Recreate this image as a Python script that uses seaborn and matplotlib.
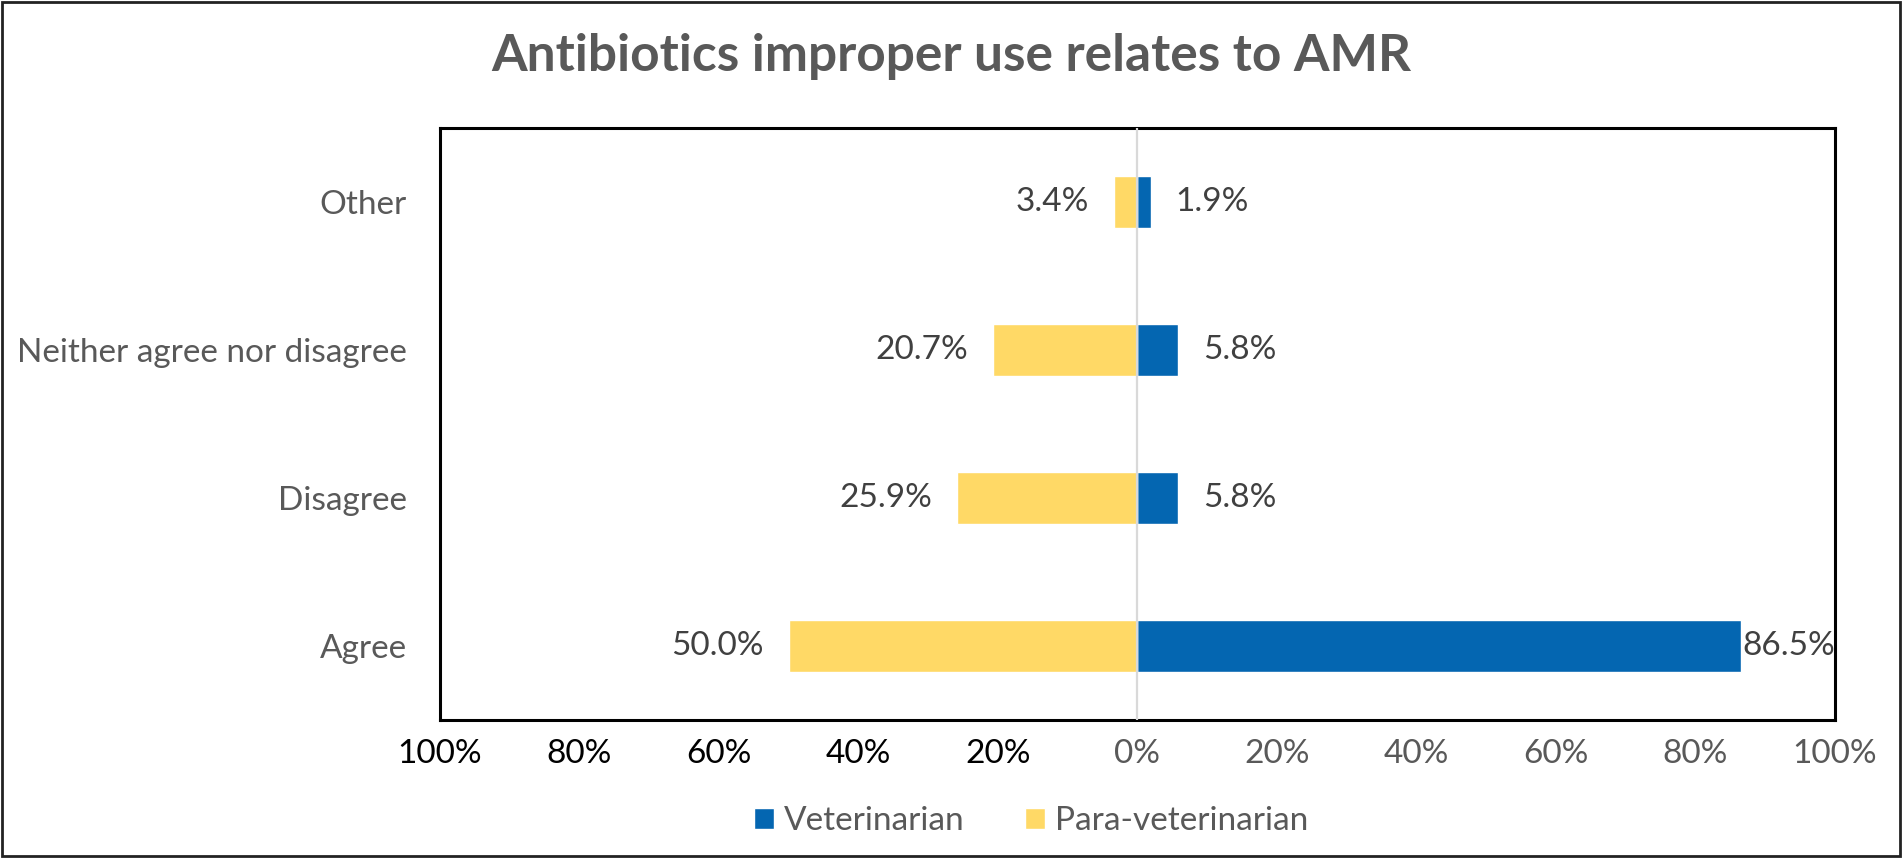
"""Diverging bar chart: antibiotics improper use relates to AMR."""

import matplotlib
matplotlib.use("Agg")
import matplotlib.pyplot as plt
from matplotlib.patches import Rectangle
import pandas as pd
import seaborn as sns

# Data (percent of respondents)
categories = ["Other", "Neither agree nor disagree", "Disagree", "Agree"]
veterinarian = [1.9, 5.8, 5.8, 86.5]
para_veterinarian = [3.4, 20.7, 25.9, 50.0]
groups = ["Veterinarian", "Para-veterinarian"]
tick_values = [-100, -80, -60, -40, -20, 0, 20, 40, 60, 80, 100]

BLUE = "#0466B1"
YELLOW = "#FFD966"
GRAY_TEXT = "#595959"
FONT = "Lato"
FS = 24

# Long-form table; para-veterinarian values go to the left side
df = pd.DataFrame({
    "Response": categories * 2,
    "Percent": veterinarian + [-v for v in para_veterinarian],
    "Group": [groups[0]] * len(categories) + [groups[1]] * len(categories),
})

sns.set_style("white")
plt.rcParams["font.family"] = [FONT, "DejaVu Sans"]

fig = plt.figure(figsize=(19.02, 8.58), dpi=100)
ax = fig.add_axes([0.2313, 0.1608, 0.9648 - 0.2313, 0.8508 - 0.1608])

sns.barplot(
    data=df, x="Percent", y="Response", hue="Group",
    order=categories, hue_order=groups,
    palette={groups[0]: BLUE, groups[1]: YELLOW},
    orient="h", dodge=False, width=0.355, saturation=1,
    legend=True, ax=ax, zorder=2,
)

ax.set_xlim(-100, 100)
ax.set_ylim(len(categories) - 0.5, -0.5)
ax.axvline(0, color="#D9D9D9", lw=1.6, zorder=3)

# Data labels: absolute values; the long bar keeps its label tight so it stays in the box
for container, values in zip(ax.containers, [veterinarian, para_veterinarian]):
    anns = ax.bar_label(container, labels=[f"{v:.1f}%" for v in values],
                        padding=18, fontsize=FS, color="#404040")
    for ann, v in zip(anns, values):
        if v > 80:
            ann.xyann = (1, 0)

ax.set_xticks(tick_values)
ax.set_xticklabels([f"{abs(t)}%" for t in tick_values])
for t, lab in zip(tick_values, ax.get_xticklabels()):
    lab.set_color("black" if t < 0 else GRAY_TEXT)
ax.tick_params(axis="x", length=0, pad=14, labelsize=FS)
ax.tick_params(axis="y", length=0, pad=24, labelsize=FS, labelcolor=GRAY_TEXT)
ax.set_xlabel("")
ax.set_ylabel("")

for side in ["top", "bottom", "left", "right"]:
    ax.spines[side].set_visible(True)
    ax.spines[side].set_color("black")
    ax.spines[side].set_linewidth(2.2)

# Legend below the plot
handles, labels = ax.get_legend_handles_labels()
ax.get_legend().remove()
fig.legend(handles, labels, loc="center", bbox_to_anchor=(0.542, 0.043),
           ncol=2, frameon=False, fontsize=FS, labelcolor=GRAY_TEXT,
           handlelength=0.6, handleheight=0.6, handletextpad=0.3,
           columnspacing=1.8)

fig.text(0.5, 1 - 57 / 858, "Antibiotics improper use relates to AMR",
         ha="center", va="center", fontsize=37, fontweight="bold",
         color=GRAY_TEXT)

# Outer frame around the whole chart
fig.patches.append(Rectangle((0.001, 0.002), 0.998, 0.996, transform=fig.transFigure,
                             fill=False, edgecolor="#222222", lw=2))

fig.savefig("out.png", dpi=100)
plt.close(fig)
